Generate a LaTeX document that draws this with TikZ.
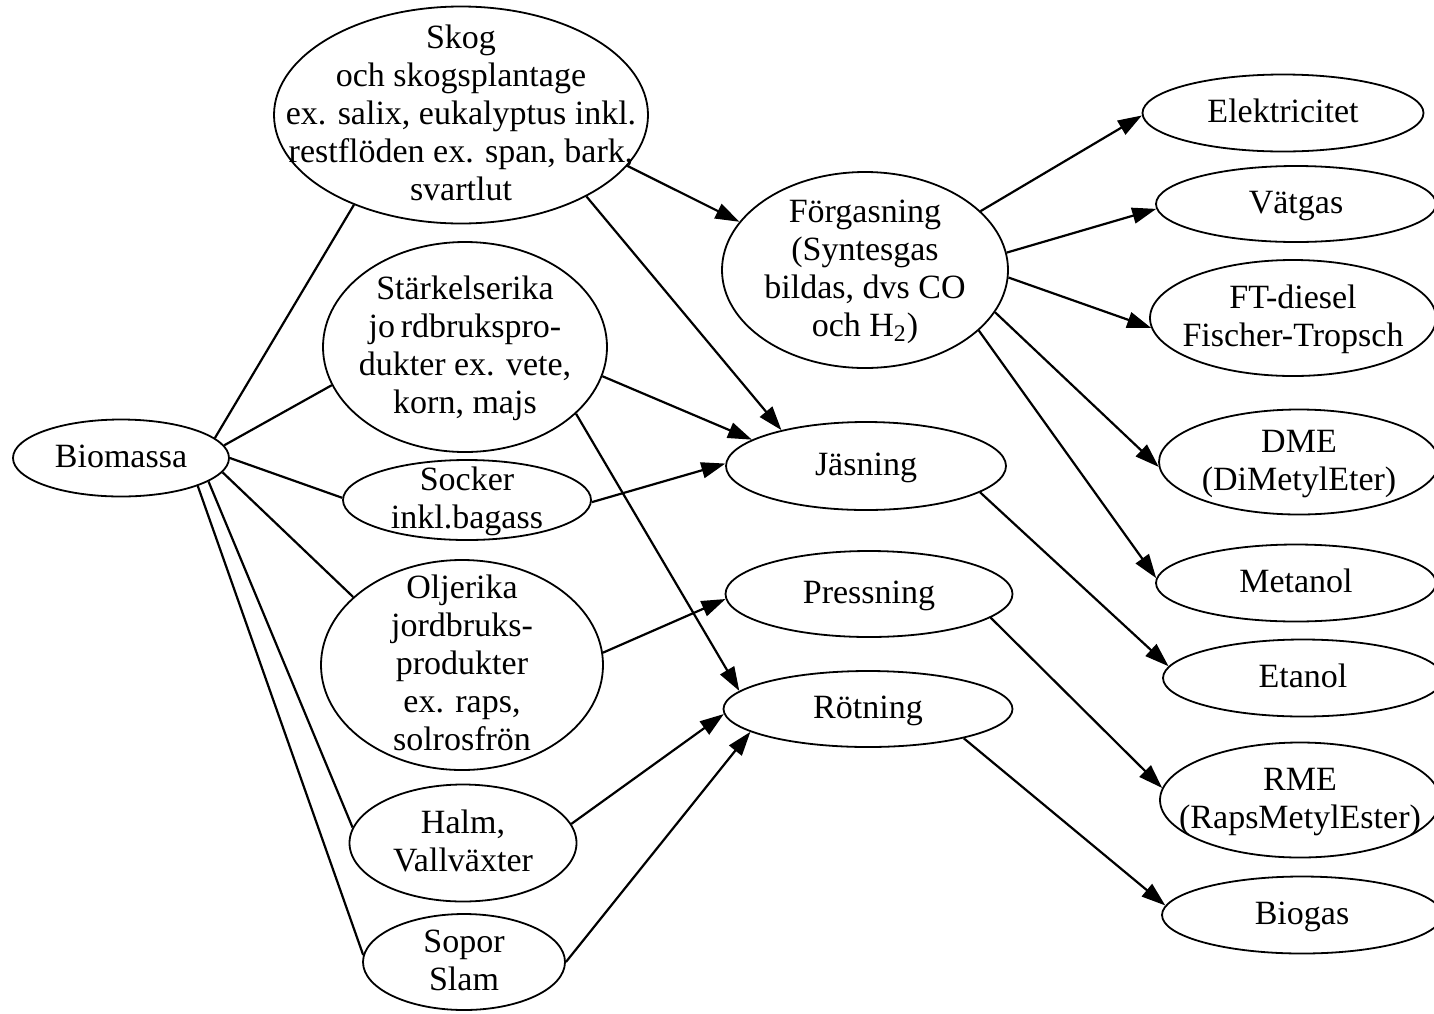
\documentclass[tikz,border=0pt]{standalone}
\usepackage{fontspec}
\setmainfont{Liberation Serif}
\usetikzlibrary{shapes.geometric,arrows.meta}
\newcommand{\inell}[1]{\makebox[0pt]{\smash{\raisebox{-.3em}{\begin{tabular}{@{}c@{}}#1\end{tabular}}}}}
\tikzset{
  blob/.style={draw, ellipse, inner sep=0pt, line width=0.9pt},
  tie/.style={line width=1.1pt},
  flow/.style={line width=1.1pt, -{Triangle[length=12pt,width=8pt]}}
}
\begin{document}
\begin{tikzpicture}[x=0.5pt,y=-0.5pt,font=\fontsize{17}{19}\selectfont]
\useasboundingbox (0,0) rectangle (1434,1013);

\node[blob, minimum width=108pt, minimum height=38.5pt] (bio) at (121,458) {\inell{Biomassa}};

\node[blob, minimum width=187pt, minimum height=108.5pt] (skog) at (461,115)
  {\inell{Skog\\och skogsplantage\\ex. salix, eukalyptus inkl.\\restflöden ex. span, bark,\\svartlut}};
\node[blob, minimum width=142pt, minimum height=105pt] (staerk) at (465,347)
  {\inell{Stärkelserika\\jo\,rdbrukspro-\\dukter ex. vete,\\korn, majs}};
\node[blob, minimum width=124pt, minimum height=40pt] (socker) at (467,500)
  {\inell{Socker\\inkl.bagass}};
\node[blob, minimum width=141pt, minimum height=105pt] (olje) at (462,665)
  {\inell{Oljerika\\jordbruks-\\produkter\\ex. raps,\\solrosfrön}};
\node[blob, minimum width=113.5pt, minimum height=58.5pt] (halm) at (463,843)
  {\inell{Halm,\\Vallväxter}};
\node[blob, minimum width=101pt, minimum height=48pt] (sopor) at (464,962)
  {\inell{Sopor\\Slam}};

\node[blob, minimum width=143pt, minimum height=98pt] (forg) at (865,270)
  {\inell{Förgasning\\(Syntesgas\\bildas, dvs CO\\och H\textsubscript{2})}};
\node[blob, minimum width=140pt, minimum height=44pt] (jas) at (866,466) {\inell{Jäsning}};
\node[blob, minimum width=143.5pt, minimum height=43pt] (press) at (869,594) {\inell{Pressning}};
\node[blob, minimum width=144.5pt, minimum height=38pt] (rot) at (868,709) {\inell{Rötning}};

\node[blob, minimum width=140.5pt, minimum height=38.5pt] (el) at (1283,113) {\inell{Elektricitet}};
\node[blob, minimum width=140pt, minimum height=38pt] (vat) at (1296,204) {\inell{Vätgas}};
\node[blob, minimum width=143pt, minimum height=58pt] (ft) at (1293,318)
  {\inell{FT-diesel\\Fischer-Tropsch}};
\node[blob, minimum width=140pt, minimum height=52.5pt] (dme) at (1299,462)
  {\inell{DME\\(DiMetylEter)}};
\node[blob, minimum width=140pt, minimum height=38.5pt] (met) at (1296,583) {\inell{Metanol}};
\node[blob, minimum width=140pt, minimum height=38.5pt] (etan) at (1303,678) {\inell{Etanol}};
\node[blob, minimum width=140pt, minimum height=57.5pt] (rme) at (1300,800)
  {\inell{RME\\(RapsMetylEster)}};
\node[blob, minimum width=140pt, minimum height=38.5pt] (biogas) at (1302,915) {\inell{Biogas}};

\draw[tie] (bio.12) -- (skog.-140);
\draw[tie] (bio.7) -- (staerk.-164);
\draw[tie] (bio.0) -- (socker.179);
\draw[tie] (bio.-8) -- (olje.148);
\draw[tie] (bio.-15) -- (halm.172);
\draw[tie] (bio.-20) -- (sopor.176);

\draw[flow] (skog.-17) -- (forg.159);
\draw[flow] (skog.-33) -- (jas.157);
\draw[flow] (staerk.-12) -- (jas.167);
\draw[flow] (staerk.-31) -- (rot.172);
\draw[flow] (socker.-1) -- (jas.179);
\draw[flow] (olje.5) -- (press.-178);
\draw[flow] (halm.10) -- (rot.-178);
\draw[flow] (sopor.0) -- (rot.-169);

\draw[flow] (forg.27) -- (el.-179);
\draw[flow] (forg.7) -- (vat.-178);
\draw[flow] (forg.-3) -- (ft.-176);
\draw[flow] (forg.-18) -- (dme.-178);
\draw[flow] (forg.-28) -- (met.178);
\draw[flow] (jas.-13) -- (etan.175);
\draw[flow] (press.-11) -- (rme.175);
\draw[flow] (rot.-17) -- (biogas.176);
\end{tikzpicture}
\end{document}
